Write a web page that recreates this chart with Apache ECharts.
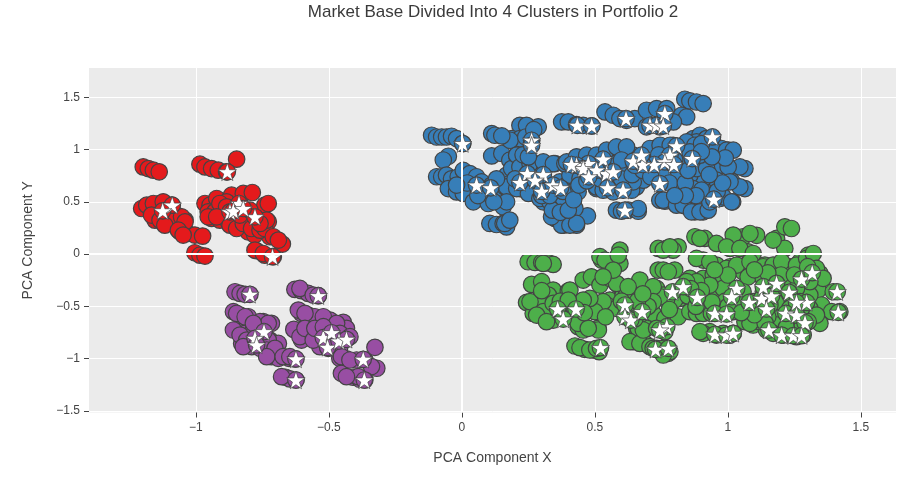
<!DOCTYPE html>
<html><head><meta charset="utf-8">
<style>html,body{margin:0;padding:0;background:#fff}#c{width:922px;height:478px}</style>
<script src="https://cdn.jsdelivr.net/npm/echarts@6/dist/echarts.min.js"></script>
</head><body><div id="c"></div>
<script>
const xTicks=[-1,-0.5,0,0.5,1,1.5];
const yTicks=[-1.5,-1,-0.5,0,0.5,1,1.5];
const blueCircles=[[-.114,1.137],[-.095,1.12],[-.076,1.12],[-.058,1.12],[-.039,1.127],[-.02,1.105],[.003,1.057],[-.051,.936],[-.07,.9],[-.095,.74],[-.076,.74],[-.058,.755],[-.039,.72],[-.014,.74],[.005,.8],[.03,.77],[.055,.74],[-.051,.627],[-.02,.595],[.005,.58],[.043,.5],[.099,.484],[.155,.452],[.143,.53],[.074,.69],[.112,.66],[.162,.643],[.105,.293],[.13,.283],[.155,.293],[.168,.26],[.112,1.153],[.124,1.137],[.218,1.232],[.243,1.232],[.287,1.217],[.187,1.105],[.218,1.105],[.262,1.089],[.112,.939],[.15,.962],[.18,.898],[.206,.946],[.168,.755],[.187,.818],[.231,.85],[.274,.866],[.318,.85],[.35,.866],[.18,.675],[.218,.627],[.243,.69],[.281,.69],[.318,.627],[.368,.69],[.393,.66],[.419,.596],[.306,.5],[.362,.5],[.422,.436],[.472,.366],[.35,.34],[.381,.277],[.4,.34],[.431,.277],[.393,.85],[.431,.914],[.469,.898],[.506,.882],[.556,.978],[.594,.994],[.619,1.01],[.644,.946],[.581,.85],[.606,.787],[.506,.627],[.544,.627],[.581,.611],[.619,.627],[.656,.643],[.682,.723],[.406,.755],[.444,.723],[.719,1.01],[.757,1.025],[.794,1.041],[.719,.85],[.694,.946],[.87,1.105],[.895,1.137],[.92,1.105],[.945,1.057],[.976,1.01],[1.001,.994],[.87,1.01],[.907,1.01],[.845,.914],[.895,.882],[.945,.866],[1.001,.834],[1.064,.818],[1.045,.834],[.957,.707],[1.014,.697],[1.064,.627],[1.045,.643],[.907,.723],[.857,.755],[.807,.755],[.757,.723],[.813,.627],[.87,.627],[.92,.627],[.744,.516],[.763,.506],[.838,.462],[.876,.404],[.907,.404],[.932,.5],[.97,.532],[1.018,.5],[.581,.42],[.6,.41],[.625,.42],[.663,.41],[.375,1.264],[.4,1.264],[.431,1.239],[.456,1.232],[.488,1.226],[.538,1.36],[.569,1.328],[.594,1.296],[.619,1.28],[.65,1.296],[.694,1.376],[.732,1.392],[.77,1.392],[.826,1.328],[.845,1.312],[.795,1.264],[.694,1.217],[.744,1.217],[.838,1.481],[.857,1.465],[.882,1.455],[.907,1.44],
[.181,1.089],[.206,.946],[.218,.834],[.256,.866],[.306,.882],[.344,.866],[.387,.866],[.168,.643],[.206,.627],[.25,.58],[.293,.532],[.331,.5],[.368,.484],[.412,.564],[.437,.596],[.425,.436],[.356,.341],[.375,.277],[.406,.277],[.431,.293],[.337,.357],[.168,.5],[.161,.293],[.18,.325],[.381,.532],[.394,.882],[.431,.93],[.469,.946],[.506,.946],[.544,.994],[.581,1.025],[.619,1.025],[.519,.85],[.569,.787],[.606,.803],[.506,.643],[.531,.611],[.569,.596],[.638,.611],
[.882,1.073],[.92,1.105],[.945,.994],[.995,.994],[1.02,.994],[.971,.85],[1.001,.834],[.957,.707],[1.008,.691],[.907,.723],[.857,.755],[.807,.771],[.757,.818],[.707,1.01],[.745,1.041],[.783,1.041],[.845,1.073],[.757,.516],[.807,.468],[.832,.468],[.863,.404],[.895,.404],[.926,.42],[.932,.5],[.982,.548],[1.014,.5],[.82,.627],[.869,.627],[.901,.611],[.757,.739],[.682,.707],[.644,.691],[.663,.436],[.882,.818],[.92,.818],[.845,.882],[.895,.946],[.876,1.041],[.857,.978],[.901,1.057],
[.34,.42],[.37,.4],[.4,.42],[.3,.56],[.33,.56],[.38,.6],[.42,.52],[.44,.66],[.47,.7],[.52,.72],[.56,.7],[.6,.72],[.64,.76],[.68,.8],[.71,.74],[.78,.68],[.84,.68],[.88,.56],[.84,.56],[.8,.56],[.96,.6],[.98,.68],[.85,.8],[.93,.76],[.99,.92],[.94,.93],[.8,.9],[.9,.98],[.74,.95],[.6,.9],[.65,.85],[.1,.58],[.06,.56],[.02,.68],[-.02,.66],[.12,.5],[.13,.72],[.23,.95],[.25,.93],[.2,.72],[.15,1.13],[.24,1.12],[.27,1.19]];
const blueStars=[[.003,1.057],[.055,.66],[.108,.634],[.262,1.089],[.262,1.041],[.246,.77],[.218,.685],[.306,.76],[.275,.707],[.3,.6],[.343,.66],[.371,.634],[.434,1.232],[.488,1.226],[.617,1.296],[.763,1.344],[.707,1.232],[.732,1.232],[.757,1.226],[.942,1.121],[.807,1.035],[.782,.946],[.866,.914],[.763,.882],[.797,.857],[.723,.857],[.68,.857],[.644,.889],[.675,.946],[.531,.908],[.475,.866],[.431,.85],[.456,.818],[.544,.77],[.506,.803],[.477,.739],[.548,.634],[.606,.611],[.744,.675],[.947,.525],[.613,.42],[.569,.787],[.412,.857]];
const greenCircles=[[.249,-.073],[.275,-.08],[.3,-.08],[.325,-.083],[.343,-.099],[.262,-.29],[.3,-.264],[.343,-.344],[.4,-.354],[.243,-.462],[.274,-.471],[.3,-.487],[.331,-.487],[.268,-.567],[.306,-.599],[.343,-.631],[.381,-.551],[.437,-.694],[.456,-.726],[.512,-.71],[.425,-.879],[.462,-.911],[.494,-.917],[.516,-.933],[.456,-.248],[.487,-.217],[.519,-.296],[.475,-.44],[.506,-.551],[.556,-.44],[.588,-.296],[.525,-.057],[.556,-.073],[.594,-.089],[.594,.038],[.556,-.232],[.632,-.36],[.669,-.248],[.606,-.392],[.544,-.487],[.613,-.551],[.682,-.551],[.719,-.567],[.657,-.71],[.694,-.71],[.763,-.615],[.813,-.599],[.644,-.838],[.688,-.854],[.732,-.901],[.776,-.949],[.738,.054],[.769,.054],[.813,.07],[.794,.038],[.738,-.153],[.757,-.153],[.8,-.153],[.732,-.328],[.757,-.392],[.782,-.455],[.82,-.424],[.857,-.232],[.907,-.232],[.945,-.2],[.982,-.248],[.945,-.344],[1.008,-.36],[.882,-.392],[.876,.166],[.913,.15],[.957,.102],[1.008,.054],[1.057,.166],[1.108,.18],[1.076,.022],[1.183,.15],[1.214,.261],[1.239,.245],[1.214,.054],[.907,-.057],[.957,-.105],[1.008,-.121],[1.057,-.169],[1.076,-.217],[1.139,-.105],[1.233,-.121],[1.271,-.073],[1.302,-.01],[1.346,-.185],[1.339,-.344],[1.283,-.232],[1.208,-.248],[1.133,-.232],[1.396,-.36],[1.352,-.487],[1.39,-.551],[1.421,-.551],[1.346,-.662],[1.283,-.583],[1.183,-.583],[1.095,-.678],[1.064,-.646],[1.145,-.726],[1.208,-.774],[1.258,-.79],[1.283,-.774],[.92,-.551],[.995,-.567],[.932,-.742],[.982,-.758],[1.02,-.758],[.907,-.758],[.957,-.376],[1.033,-.455],[1.108,-.455],[1.183,-.455],[1.233,-.392],[1.308,-.392],
[1.02,.182],[1.083,.197],[.895,.15],[.995,.07],[1.045,.054],[1.095,.006],[1.17,.134],[.882,-.041],[.932,-.073],[.995,-.137],[1.033,-.105],[1.083,-.073],[1.133,-.121],[1.17,-.105],[1.202,-.073],[1.258,-.105],[1.296,-.041],[1.321,.006],[1.333,-.137],[1.358,-.232],[1.308,-.264],[1.258,-.328],[1.183,-.328],[1.133,-.36],[1.057,-.36],[.982,-.328],[.932,-.296],[.882,-.264],[.845,-.264],[.826,-.392],[.8,-.44],[.769,-.44],[.744,-.408],[.719,-.312],[.719,-.455],[.857,-.551],[.882,-.567],[.907,-.567],[.938,-.567],[1.02,-.551],[1.051,-.487],[1.095,-.455],[1.158,-.487],[1.233,-.519],[1.271,-.455],[1.308,-.519],[1.333,-.583],[1.302,-.646],[1.258,-.646],[1.221,-.646],[1.183,-.678],[1.12,-.646],[1.083,-.662],[1.17,-.758],[1.233,-.774],[.895,-.742],[.957,-.774],[1.008,-.774],[.619,-.392],[.632,-.519],[.581,-.519],[.531,-.455],[.5,-.551],[.581,-.28],[.625,-.312],[.669,-.583],[.481,-.424],[.456,-.44],[.406,-.344],[.325,-.392],[.293,-.424],[.256,-.455],[.343,-.519],[.306,-.551],[.281,-.583],[.369,-.583],[.318,-.646],[.343,-.471],[.437,-.662],[.513,-.726],[.475,-.71],[.444,-.895],[.481,-.917],[.506,-.901],[.663,-.71],[.632,-.838],[.669,-.854],[.707,-.885],[.757,-.901],[.719,-.901],[.682,-.726],[.732,-.71],[.763,-.742],[.782,-.933],[.757,-.965],[.306,-.089],[.519,-.025],[.538,-.057],[.588,-.01],[.569,-.153],[.531,-.217],[.757,.038],[.782,.07],[.776,-.169],
[.85,-.4],[.9,-.35],[.86,-.33],[.99,-.45],[1.0,-.5],[.88,-.5],[.94,-.46],[.78,-.53],[.7,-.5],[.66,-.45],[.68,-.38],[1.15,-.6],[1.22,-.7],[1.28,-.68],[1.14,-.66],[1.1,-.58],[1.05,-.56],[.3,-.35],[.37,-.45],[.4,-.44],[.46,-.56],[.54,-.6],[.6,-.45],[.65,-.62],[1.2,-.2],[1.25,-.2],[1.15,-.18],[1.1,-.15],[1.0,-.2],[.95,-.15],[1.3,-.12]];
const greenStars=[[.36,-.525],[.429,-.525],[.381,-.621],[.613,-.487],[.613,-.599],[.635,-.631],[.678,-.551],[.77,-.694],[.744,-.726],[.521,-.895],[.728,-.911],[.776,-.901],[.792,-.36],[.832,-.312],[.885,-.414],[.951,-.567],[.995,-.573],[.951,-.767],[.995,-.774],[1.02,-.758],[1.033,-.328],[1.014,-.408],[1.08,-.462],[1.127,-.424],[1.133,-.312],[1.164,-.401],[1.145,-.525],[1.183,-.28],[1.23,-.366],[1.277,-.239],[1.317,-.178],[1.411,-.36],[1.415,-.557],[1.296,-.462],[1.258,-.462],[1.218,-.567],[1.258,-.583],[1.29,-.656],[1.154,-.726],[1.202,-.774],[1.246,-.78],[1.277,-.78]];
const redCircles=[[-1.198,.834],[-1.179,.818],[-1.16,.803],[-1.138,.787],[-.985,.86],[-.966,.834],[-.941,.818],[-.916,.803],[-.885,.787],[-.847,.908],[-1.179,.436],[-1.16,.42],[-1.135,.484],[-1.091,.468],[-1.154,.325],[-1.123,.309],[-1.098,.293],[-1.073,.373],[-1.041,.325],[-1.06,.213],[-1.029,.197],[-1.004,.182],[-.975,.172],[-1.13,.404],[-1.098,.357],[-1.004,.013],[-.985,-.01],[-.966,-.019],[-.966,.484],[-.947,.468],[-.922,.532],[-.866,.564],[-.822,.58],[-.788,.589],[-.91,.436],[-.885,.5],[-.941,.341],[-.91,.325],[-.878,.309],[-.853,.277],[-.816,.325],[-.741,.468],[-.728,.309],[-.804,.213],[-.779,.182],[-.722,.166],[-.675,.096],[-.772,.032],[-.741,-.01],[-.709,-.025],[-.847,.404],[-.885,.404],
[-1.204,.436],[-1.185,.468],[-1.16,.484],[-1.123,.5],[-1.167,.373],[-1.135,.325],[-1.117,.277],[-1.054,.357],[-1.041,.309],[-1.066,.229],[-1.048,.182],[-.954,.404],[-.929,.404],[-.91,.484],[-.885,.452],[-.954,.357],[-.922,.357],[-.872,.277],[-.847,.245],[-.822,.293],[-.791,.245],[-.759,.229],[-.741,.245],[-.734,.325],[-.759,.293],[-.728,.484],[-.778,.038],[-.747,.006],[-.709,.166],[-.69,.134],[-.835,.373],[-.797,.42]];
const redStars=[[-1.089,.468],[-1.125,.414],[-.882,.787],[-.838,.484],[-.872,.404],[-.859,.414],[-.778,.357],[-.712,-.025],[-.822,.436]];
const purpleCircles=[[-.853,-.36],[-.834,-.376],[-.815,-.385],[-.859,-.551],[-.834,-.583],[-.803,-.599],[-.747,-.646],[-.716,-.662],[-.84,-.742],[-.815,-.758],[-.784,-.726],[-.828,-.854],[-.79,-.885],[-.758,-.901],[-.722,-.822],[-.69,-.854],[-.716,-.981],[-.69,-.997],[-.65,-.997],[-.627,-1.003],[-.663,-1.178],[-.647,-1.194],[-.624,-1.204],[-.628,-.338],[-.604,-.35],[-.578,-.376],[-.54,-.398],[-.603,-.567],[-.578,-.583],[-.553,-.599],[-.496,-.631],[-.446,-.653],[-.434,-.71],[-.632,-.72],[-.603,-.822],[-.571,-.758],[-.534,-.885],[-.502,-.901],[-.459,-.997],[-.434,-1.003],[-.396,-1.013],[-.365,-1.013],[-.327,-.892],[-.32,-1.092],[-.34,-1.076],[-.453,-1.14],[-.409,-1.178],[-.384,-1.197],[-.365,-1.204],[-.484,-.822],
[-.847,-.567],[-.815,-.599],[-.759,-.646],[-.728,-.662],[-.859,-.726],[-.834,-.774],[-.809,-.822],[-.753,-.79],[-.728,-.822],[-.822,-.885],[-.734,-.917],[-.703,-.901],[-.784,-.662],[-.734,-.981],[-.672,-.981],[-.647,-.981],[-.678,-1.172],[-.615,-.535],[-.59,-.567],[-.521,-.599],[-.471,-.662],[-.459,-.758],[-.421,-.79],[-.609,-.79],[-.59,-.71],[-.559,-.822],[-.553,-.71],[-.521,-.694],[-.509,-.854],[-.459,-.885],[-.453,-.981],[-.421,-1.013],[-.39,-1.172],[-.434,-1.172],[-.609,-.328],[-.559,-.392]];
const purpleStars=[[-.797,-.385],[-.54,-.398],[-.744,-.742],[-.778,-.806],[-.772,-.869],[-.624,-1.003],[-.624,-1.204],[-.521,-.799],[-.49,-.752],[-.505,-.892],[-.462,-.831],[-.434,-.815],[-.371,-1.006],[-.367,-1.204]];
const titleText='Market Base Divided Into 4 Clusters in Portfolio 2';
const xName='PCA Component X', yName='PCA Component Y';
const ff='"Liberation Sans",Arial,sans-serif';
const starPath='path://M50 0 L61.8 35.1 L98.6 35.1 L68.6 57 L79.4 91.8 L50 70.5 L20.6 91.8 L31.4 57 L1.4 35.1 L38.2 35.1 Z';
const minusFmt=v=>String(v).replace('-','\u2212');
function circles(d,s,color){return {type:'scatter',data:d.concat(s),symbol:'circle',symbolSize:16.5,silent:true,animation:false,
  itemStyle:{color:color,opacity:1,borderColor:'#444',borderWidth:1.2}};}
function stars(d){return {type:'scatter',data:d,symbol:starPath,symbolSize:[18.5,17.5],silent:true,animation:false,
  itemStyle:{color:'#fff',opacity:1,borderColor:'#444',borderWidth:.7}};}
function axis(ticks,min,max,name,extra){return Object.assign({type:'value',min:min,max:max,name:name,nameLocation:'middle',
  nameTextStyle:{color:'#444',fontSize:14,fontFamily:ff},
  axisLine:{show:false,onZero:false},
  axisTick:{show:true,length:5,customValues:ticks,lineStyle:{color:'#444',width:1}},
  axisLabel:{color:'#444',fontSize:12,fontFamily:ff,margin:9,customValues:ticks,formatter:minusFmt,showMinLabel:true,showMaxLabel:true},
  splitLine:{show:true,lineStyle:{color:'#fff',width:1}}},extra);}
const zeroLines={type:'scatter',data:[],z:1,silent:true,animation:false,
  markLine:{silent:true,symbol:'none',animation:false,label:{show:false},lineStyle:{color:'#fff',width:2,type:'solid'},data:[{xAxis:0},{yAxis:0}]}};
const chart=echarts.init(document.getElementById('c'),null,{renderer:'canvas'});
chart.setOption({animation:false,backgroundColor:'#fff',
  title:{text:titleText,left:488,top:-1,textAlign:'center',textStyle:{color:'#3a3a3a',fontSize:17,fontWeight:'normal',fontFamily:ff}},
  grid:{left:89,right:26,top:68,bottom:65.5,backgroundColor:'#ebebeb',show:true,borderWidth:0},
  xAxis:axis(xTicks,-1.402,1.632,xName,{nameGap:39}),
  yAxis:axis(yTicks,-1.515,1.78,yName,{nameGap:54}),
  series:[zeroLines,circles(blueCircles,blueStars,'#377eb8'),stars(blueStars),circles(greenCircles,greenStars,'#4daf4a'),stars(greenStars),
          circles(redCircles,redStars,'#e41a1c'),stars(redStars),circles(purpleCircles,purpleStars,'#984ea3'),stars(purpleStars)]
});
</script></body></html>
